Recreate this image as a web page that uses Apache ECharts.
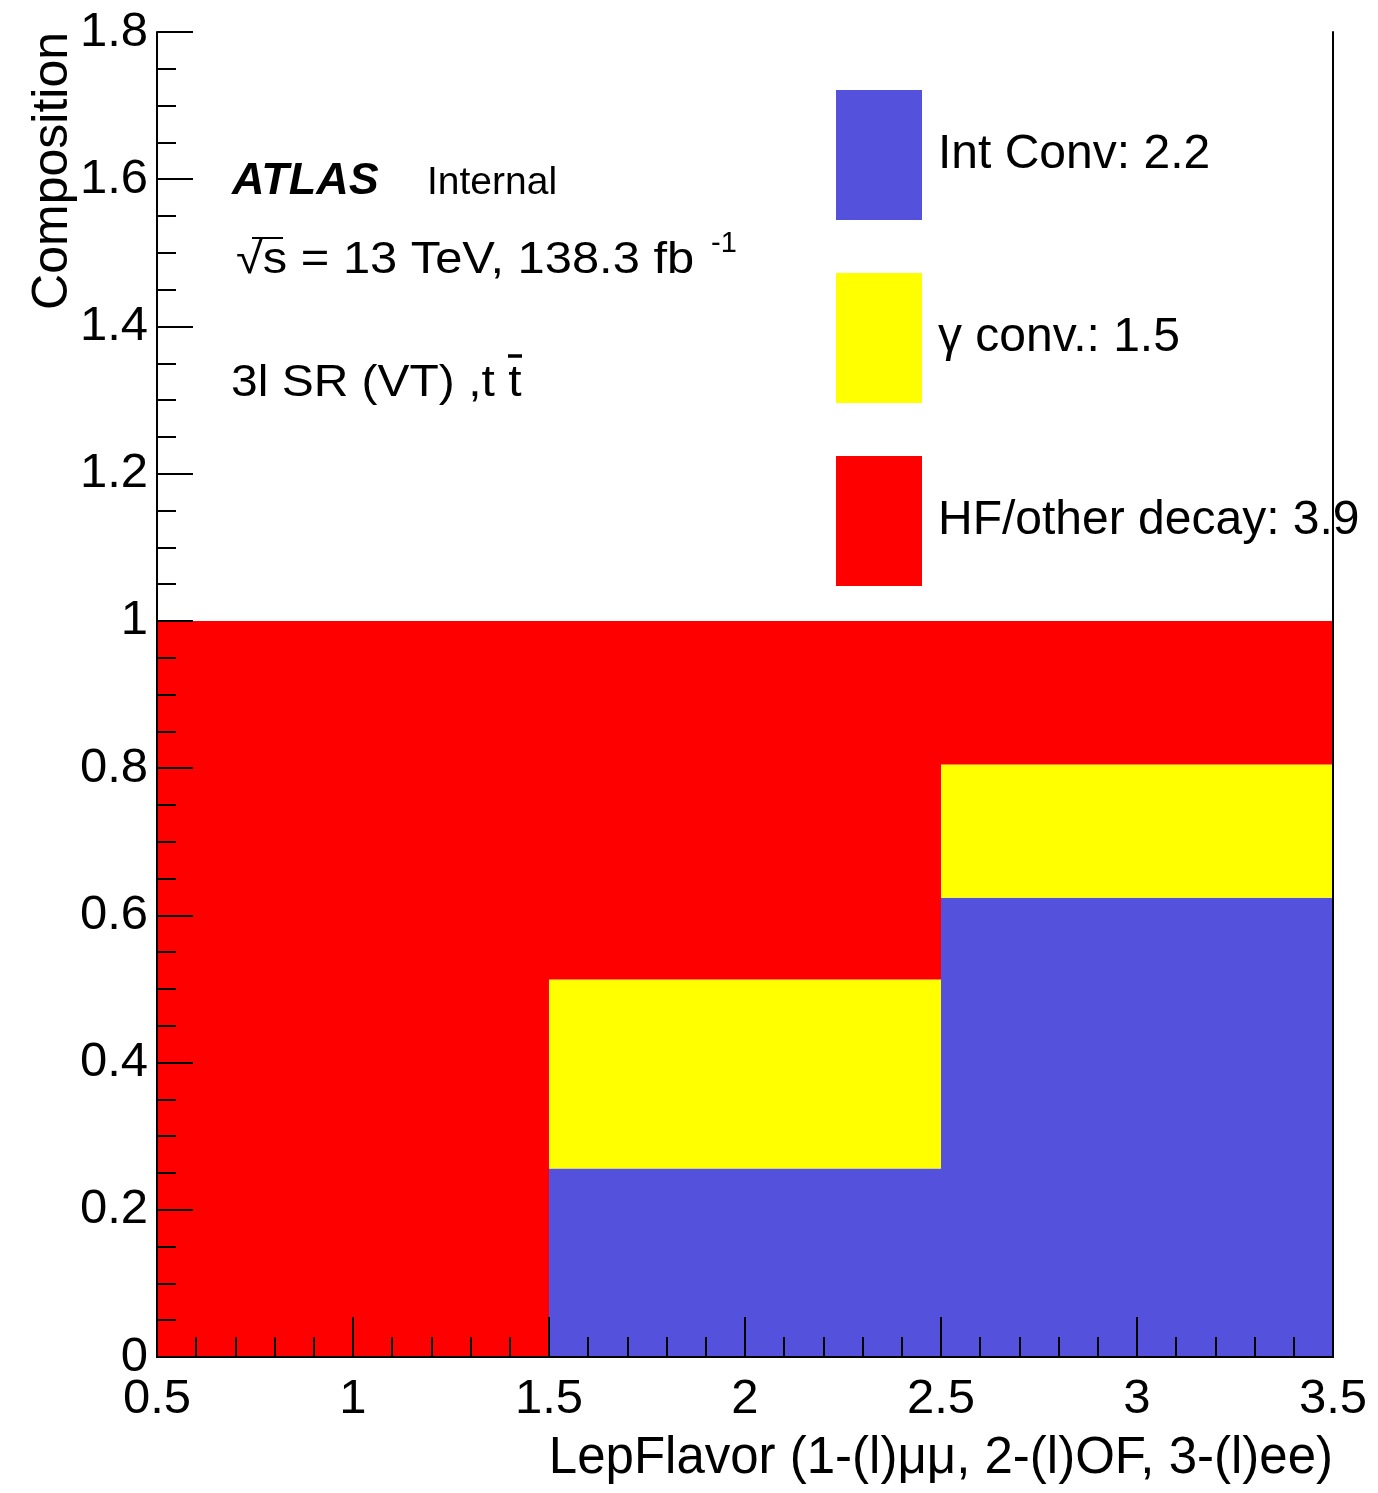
<!DOCTYPE html>
<html>
<head>
<meta charset="utf-8">
<title>LepFlavor composition</title>
<script src="https://cdn.jsdelivr.net/npm/echarts@6/dist/echarts.min.js"></script>
<style>
  html, body { margin: 0; padding: 0; background: #fff; }
  #chart { width: 1378px; height: 1493px; }
</style>
</head>
<body>
<div id="chart"></div>
<script>
// Bin edges of the LepFlavor histogram (1-(l)mumu, 2-(l)OF, 3-(l)ee)
const binEdges = [0.5, 1.5, 2.5, 3.5];

// Fractional composition per bin, stacked bottom to top
const intConv   = [0.0, 0.256, 0.624];
const gammaConv = [0.0, 0.257, 0.181];
const hfOther   = [1.0, 0.487, 0.195];

// Legend entries (with yields), in stacking order
const seriesNames  = ['Int Conv: 2.2', '\u03b3 conv.: 1.5', 'HF/other decay: 3.9'];
const seriesColors = ['#5451dd', '#ffff00', '#ff0000'];

// Axis tick settings
const xTicks = { min: 0.5, max: 3.5, interval: 0.5 };
const yTicks = { min: 0, max: 1.8, interval: 0.2 };

const FONT = '"Liberation Sans", Arial, Helvetica, sans-serif';

// Build stacked [lowEdge, highEdge, base, value] items
const stacks = [intConv, gammaConv, hfOther];
const base = binEdges.slice(0, -1).map(() => 0);
const seriesData = stacks.map(vals => vals.map((v, i) => {
  const item = [binEdges[i], binEdges[i + 1], base[i], v];
  base[i] += v;
  return item;
}));

function renderBin(params, api) {
  const lo = api.value(0), hi = api.value(1), b = api.value(2), v = api.value(3);
  if (v <= 0) return null;
  const p0 = api.coord([lo, b + v]);
  const p1 = api.coord([hi, b]);
  return {
    type: 'rect',
    shape: { x: p0[0], y: p0[1], width: p1[0] - p0[0], height: p1[1] - p0[1] },
    style: { fill: api.visual('color') }
  };
}

const chart = echarts.init(document.getElementById('chart'), null, { renderer: 'canvas' });

const axisCommon = {
  type: 'value',
  z: 5,
  nameMoveOverlap: false,
  axisLine: { show: true, onZero: false, lineStyle: { color: '#000', width: 2 } },
  axisTick: { show: true, inside: true, lineStyle: { color: '#000', width: 2 } },
  minorTick: { show: true, lineStyle: { color: '#000', width: 2 } },
  splitLine: { show: false },
  minorSplitLine: { show: false },
  axisLabel: { color: '#000', fontSize: 49, fontFamily: FONT }
};

chart.setOption({
  animation: false,
  backgroundColor: '#fff',
  grid: { left: 157, right: 45, top: 32, bottom: 136, containLabel: false, outerBoundsMode: 'none' },
  xAxis: [
    Object.assign({}, axisCommon, {
      min: xTicks.min, max: xTicks.max, interval: xTicks.interval,
      axisTick: Object.assign({}, axisCommon.axisTick, { length: 40 }),
      minorTick: Object.assign({}, axisCommon.minorTick, { splitNumber: 5, length: 20 }),
      axisLabel: Object.assign({}, axisCommon.axisLabel, { margin: 18, showMinLabel: true, showMaxLabel: true }),
      name: 'LepFlavor (1-(l)\u03bc\u03bc, 2-(l)OF, 3-(l)ee)',
      nameLocation: 'end',
      nameGap: 0,
      nameTextStyle: { color: '#000', fontSize: 51, fontFamily: FONT, align: 'right', verticalAlign: 'top', padding: [76, 0, 0, 0] }
    }),
    { type: 'value', position: 'top', min: xTicks.min, max: xTicks.max, z: 5,
      axisLine: { show: true, lineStyle: { color: '#000', width: 2 } },
      axisTick: { show: false }, axisLabel: { show: false }, splitLine: { show: false } }
  ],
  yAxis: [
    Object.assign({}, axisCommon, {
      min: yTicks.min, max: yTicks.max, interval: yTicks.interval,
      axisTick: Object.assign({}, axisCommon.axisTick, { length: 36 }),
      minorTick: Object.assign({}, axisCommon.minorTick, { splitNumber: 4, length: 19 }),
      axisLabel: Object.assign({}, axisCommon.axisLabel, { margin: 9, showMinLabel: true, showMaxLabel: true }),
      name: 'Composition',
      nameLocation: 'end',
      nameGap: 0,
      nameRotate: 90,
      nameTextStyle: { color: '#000', fontSize: 50, fontFamily: FONT, align: 'right', verticalAlign: 'bottom', padding: [0, 0, 79, 0] }
    }),
    { type: 'value', position: 'right', min: yTicks.min, max: yTicks.max, z: 5,
      axisLine: { show: true, lineStyle: { color: '#000', width: 2 } },
      axisTick: { show: false }, axisLabel: { show: false }, splitLine: { show: false } }
  ],
  legend: {
    orient: 'vertical',
    left: 836,
    top: 90,
    padding: 0,
    itemWidth: 86,
    itemHeight: 130,
    itemGap: 53,
    icon: 'rect',
    selectedMode: false,
    data: seriesNames,
    textStyle: { color: '#000', fontSize: 48, fontFamily: FONT, padding: [0, 0, 0, 11] }
  },
  series: seriesNames.map((name, k) => ({
    type: 'custom',
    name: name,
    renderItem: renderBin,
    encode: { x: [0, 1], y: [2, 3] },
    itemStyle: { color: seriesColors[k] },
    data: seriesData[k],
    z: 2
  })),
  graphic: [
    { type: 'text', x: 232, y: 182, style: { text: 'ATLAS', fill: '#000', font: 'italic bold 45px ' + FONT, verticalAlign: 'middle' } },
    { type: 'text', x: 427, y: 183, style: { text: 'Internal', fill: '#000', font: '39px ' + FONT, verticalAlign: 'middle' } },
    { type: 'text', x: 236, y: 261, scaleX: 1.11, style: { text: '\u221as = 13 TeV, 138.3 fb', fill: '#000', font: '44px ' + FONT, verticalAlign: 'middle' } },
    { type: 'line', shape: { x1: 252, y1: 238, x2: 283, y2: 238 }, style: { stroke: '#000', lineWidth: 2 } },
    { type: 'text', x: 711, y: 244, style: { text: '-1', fill: '#000', font: '29px ' + FONT, verticalAlign: 'middle' } },
    { type: 'text', x: 231, y: 384, scaleX: 1.09, style: { text: '3l SR (VT) ,t t', fill: '#000', font: '44px ' + FONT, verticalAlign: 'middle' } },
    { type: 'line', shape: { x1: 508, y1: 356, x2: 522, y2: 356 }, style: { stroke: '#000', lineWidth: 3.5 } }
  ]
});
</script>
</body>
</html>
